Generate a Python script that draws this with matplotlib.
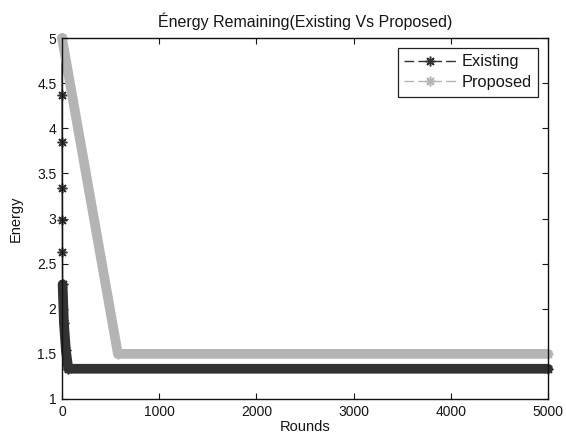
import matplotlib
matplotlib.use("Agg")
import matplotlib.pyplot as plt
from matplotlib.lines import Line2D

# Energy per round (breakpoints of each curve)
existing_rounds = [0, 1, 2, 3, 4, 5, 6, 20, 40, 65, 5000]
existing_energy = [5.0, 4.37, 3.85, 3.335, 2.98, 2.625, 2.27, 1.84, 1.54, 1.335, 1.335]

proposed_rounds = [0, 575, 5000]
proposed_energy = [5.0, 1.5, 1.5]

# index from which the per-round markers overlap into a solid band
existing_dense_from = 6
proposed_dense_from = 0

x_ticks = [0, 1000, 2000, 3000, 4000, 5000]
y_ticks = [1, 1.5, 2, 2.5, 3, 3.5, 4, 4.5, 5]

plt.rcParams['font.family'] = ['Liberation Sans', 'DejaVu Sans']

dark = '#323232'
light = '#b4b4b4'
text_col = '#151515'
asterisk = (8, 2, 0)

fig = plt.figure(figsize=(5.66, 4.38), dpi=100)
ax = fig.add_axes([62 / 566, 1 - 399 / 438, (548 - 62) / 566, (399 - 38) / 438])

band_lw = 7.0
for rounds, energy, start, col in [
        (existing_rounds, existing_energy, existing_dense_from, dark),
        (proposed_rounds, proposed_energy, proposed_dense_from, light)]:
    ax.plot(rounds[start:], energy[start:], '-', color=col, lw=band_lw,
            solid_capstyle='round', solid_joinstyle='round', clip_on=False)
    ax.plot(rounds, energy, '-', color=col, lw=1, marker=asterisk,
            markersize=7, markeredgewidth=1.1, clip_on=False)

# legend handles: dashed line with an asterisk in the middle
handles = [Line2D([], [], color=c, lw=1, marker=asterisk, markersize=7,
                  markeredgewidth=1.1, linestyle=(0, (7, 3)))
           for c in (dark, light)]
leg = ax.legend(handles, ['Existing', 'Proposed'], loc='upper right',
                fontsize=11.8, fancybox=False, framealpha=1,
                edgecolor='#202020', handlelength=3.2, handletextpad=0.3,
                borderpad=0.4, labelspacing=0.35, borderaxespad=0.6)
leg.get_frame().set_linewidth(0.9)
for t in leg.get_texts():
    t.set_color(text_col)

ax.set_xlim(0, 5000)
ax.set_ylim(1, 5)
ax.set_xticks(x_ticks)
ax.set_xticklabels([str(v) for v in x_ticks])
ax.set_yticks(y_ticks)
ax.set_yticklabels([f'{v:g}' for v in y_ticks])
ax.tick_params(direction='in', length=4, width=0.8, top=True, right=True,
               labelsize=10, colors=text_col, pad=4)
for s in ax.spines.values():
    s.set_linewidth(1.0)
    s.set_color('#111111')

ax.set_title('Énergy Remaining(Existing Vs Proposed)', fontsize=11.5,
             color=text_col, pad=8)
ax.set_xlabel('Rounds', fontsize=10.5, color=text_col, labelpad=1)
ax.set_ylabel('Energy', fontsize=10.5, color=text_col, labelpad=10)

fig.savefig('out.png', dpi=100)
